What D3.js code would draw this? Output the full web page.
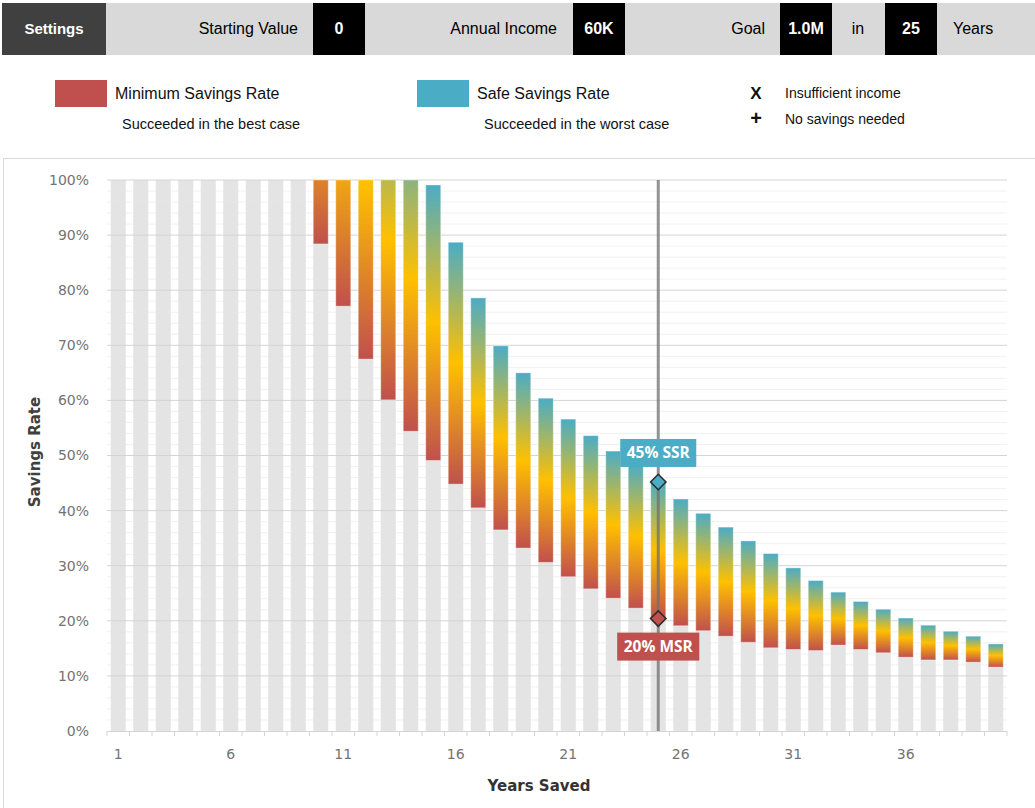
<!DOCTYPE html>
<html>
<head>
<meta charset="utf-8">
<script src="https://cdn.jsdelivr.net/npm/d3@7"></script>
<style>
  body { margin: 0; background: #fff; }
  svg { display: block; }
</style>
</head>
<body>
<script>
// ---- data ----
var years = [1, 2, 3, 4, 5, 6, 7, 8, 9, 10, 11, 12, 13, 14, 15, 16, 17, 18, 19, 20,
             21, 22, 23, 24, 25, 26, 27, 28, 29, 30, 31, 32, 33, 34, 35, 36, 37, 38, 39, 40];

// minimum savings rate (succeeded in the best case), % -- null = no bar
var minRate = [null, null, null, null, null, null, null, null, null,
  88.4, 77.1, 67.5, 60.1, 54.4, 49.1, 44.8, 40.5, 36.5, 33.2, 30.6,
  28.0, 25.8, 24.1, 22.3, 20.4, 19.1, 18.2, 17.2, 16.1, 15.1,
  14.8, 14.6, 15.6, 14.8, 14.2, 13.4, 12.9, 12.9, 12.5, 11.6];

// safe savings rate (succeeded in the worst case), % -- above 100 is cut off
var safeRate = [null, null, null, null, null, null, null, null, null,
  140, 137, 131, 118, 110, 99.1, 88.7, 78.6, 69.9, 65.0, 60.4,
  56.6, 53.6, 50.8, 48.4, 45.2, 42.1, 39.5, 37.0, 34.5, 32.2,
  29.6, 27.3, 25.2, 23.5, 22.1, 20.5, 19.2, 18.1, 17.2, 15.8];

var yTicks = [0, 10, 20, 30, 40, 50, 60, 70, 80, 90, 100];
var xTickLabels = [1, 6, 11, 16, 21, 26, 31, 36];

var goalYears = 25;
var settingLabels = ["Starting Value", "Annual Income", "Goal"];
var settingValues = ["0", "60K", "1.0M"];

var RED = "#c0504d", YELLOW = "#ffc000", TEAL = "#4bacc6";

// ---- page ----
var svg = d3.select("body").append("svg")
    .attr("width", 1035)
    .attr("height", 808);

var defs = svg.append("defs");

// settings strip across the top
var strip = svg.append("g").attr("class", "settings")
    .attr("font-family", "Liberation Sans, Arial, sans-serif").attr("font-size", 16);
strip.append("rect").attr("x", 2).attr("y", 3).attr("width", 1033).attr("height", 52).attr("fill", "#d9d9d9");
strip.append("rect").attr("x", 2).attr("y", 3).attr("width", 104).attr("height", 52).attr("fill", "#404040");
strip.append("text").attr("x", 54).attr("y", 34).attr("text-anchor", "middle")
    .attr("font-size", 15).attr("font-weight", "bold").attr("fill", "#fff").text("Settings");

var labelEnds = [298, 557, 765];
var boxLefts = [313, 573, 780];
settingLabels.forEach(function(lbl, i) {
  strip.append("text").attr("x", labelEnds[i]).attr("y", 34).attr("text-anchor", "end")
      .attr("fill", "#000").text(lbl);
  strip.append("rect").attr("x", boxLefts[i]).attr("y", 3).attr("width", 52).attr("height", 52).attr("fill", "#000");
  strip.append("text").attr("x", boxLefts[i] + 26).attr("y", 34).attr("text-anchor", "middle")
      .attr("font-weight", "bold").attr("fill", "#fff").text(settingValues[i]);
});
strip.append("text").attr("x", 858).attr("y", 34).attr("text-anchor", "middle").text("in");
strip.append("rect").attr("x", 885).attr("y", 3).attr("width", 52).attr("height", 52).attr("fill", "#000");
strip.append("text").attr("x", 911).attr("y", 34).attr("text-anchor", "middle")
    .attr("font-weight", "bold").attr("fill", "#fff").text(goalYears);
strip.append("text").attr("x", 953).attr("y", 34).text("Years");

// legend
var legend = svg.append("g").attr("class", "legend")
    .attr("font-family", "Liberation Sans, Arial, sans-serif").attr("fill", "#111");
[[55, RED, "Minimum Savings Rate", "Succeeded in the best case"],
 [417, TEAL, "Safe Savings Rate", "Succeeded in the worst case"]].forEach(function(d) {
  legend.append("rect").attr("x", d[0]).attr("y", 80).attr("width", 52).attr("height", 27).attr("fill", d[1]);
  legend.append("text").attr("x", d[0] + 60).attr("y", 99).attr("font-size", 16).text(d[2]);
  legend.append("text").attr("x", d[0] + 67).attr("y", 129).attr("font-size", 14.5).text(d[3]);
});
legend.append("text").attr("x", 756).attr("y", 99).attr("text-anchor", "middle").attr("font-size", 17).attr("font-weight", "bold").text("X");
legend.append("text").attr("x", 756).attr("y", 125).attr("text-anchor", "middle").attr("font-size", 20).attr("font-weight", "bold").text("+");
legend.append("text").attr("x", 785).attr("y", 98).attr("font-size", 14).text("Insufficient income");
legend.append("text").attr("x", 785).attr("y", 124).attr("font-size", 14).text("No savings needed");

// chart panel
svg.append("rect").attr("x", 3.5).attr("y", 158.5).attr("width", 1040).attr("height", 700)
    .attr("fill", "none").attr("stroke", "#d9d9d9");

var x = d3.scaleBand().domain(years).range([107, 1007]).paddingInner(1 / 3).paddingOuter(1 / 6);
var y = d3.scaleLinear().domain([0, 100]).range([731, 180]);

var plot = svg.append("g").attr("class", "plot");

// grey base up to the minimum rate (full height where there is no range)
plot.selectAll("rect.track")
    .data(years)
  .enter().append("rect")
    .attr("class", "track")
    .attr("x", function(d) { return x(d); })
    .attr("width", x.bandwidth())
    .attr("y", function(d, i) { return y(minRate[i] === null ? 100 : Math.min(minRate[i], 100)); })
    .attr("height", function(d, i) {
      return y(0) - y(minRate[i] === null ? 100 : Math.min(minRate[i], 100));
    })
    .attr("fill", "#e4e4e4");

// grid, minor every 2%, major every 10%
plot.selectAll("line.minor")
    .data(y.ticks(50).filter(function(t) { return t % 10 !== 0; }))
  .enter().append("line")
    .attr("class", "minor")
    .attr("x1", 107).attr("x2", 1007)
    .attr("y1", function(d) { return y(d); }).attr("y2", function(d) { return y(d); })
    .attr("stroke", "#e6e6e6").attr("stroke-opacity", 0.55);
plot.selectAll("line.major")
    .data(yTicks.filter(function(t) { return t > 0; }))
  .enter().append("line")
    .attr("class", "major")
    .attr("x1", 107).attr("x2", 1007)
    .attr("y1", function(d) { return y(d); }).attr("y2", function(d) { return y(d); })
    .attr("stroke", "#d4d4d4");

// y axis labels
var yAxis = svg.append("g").attr("transform", "translate(107,0)")
    .call(d3.axisLeft(y).tickValues(yTicks).tickFormat(function(d) { return d + "%"; })
      .tickSize(0).tickPadding(18));
yAxis.select(".domain").remove();
yAxis.selectAll("text").attr("font-family", "DejaVu Sans, Verdana, sans-serif")
    .attr("font-size", 14).attr("fill", "#737373");

// x axis: baseline, boundary ticks, labels every 5 years
var xAxis = svg.append("g").attr("transform", "translate(0,731)")
    .call(d3.axisBottom(x).tickValues(xTickLabels).tickSize(0).tickPadding(18));
xAxis.select(".domain").attr("stroke", "#d4d4d4").attr("d", "M107,0.5H1007");
xAxis.selectAll("text").attr("font-family", "DejaVu Sans, Verdana, sans-serif")
    .attr("font-size", 14).attr("fill", "#737373");
var step = x.step();
xAxis.selectAll("line.bound")
    .data(years.concat([years.length + 1]))
  .enter().append("line")
    .attr("class", "bound")
    .attr("x1", function(d, i) { return 107 + i * step; })
    .attr("x2", function(d, i) { return 107 + i * step; })
    .attr("y1", 0).attr("y2", 5)
    .attr("stroke", "#d4d4d4");

// one gradient per bar, spanning min -> safe so the cut-off bars keep their colour
var ranged = years.map(function(yr, i) {
  return { year: yr, min: minRate[i], safe: safeRate[i] };
}).filter(function(d) { return d.min !== null; });

var grads = defs.selectAll("linearGradient")
    .data(ranged)
  .enter().append("linearGradient")
    .attr("id", function(d) { return "grad" + d.year; })
    .attr("gradientUnits", "userSpaceOnUse")
    .attr("x1", 0).attr("x2", 0)
    .attr("y1", function(d) { return y(d.min); })
    .attr("y2", function(d) { return y(d.safe); });
grads.append("stop").attr("offset", 0).attr("stop-color", RED);
grads.append("stop").attr("offset", 0.5).attr("stop-color", YELLOW);
grads.append("stop").attr("offset", 1).attr("stop-color", TEAL);

plot.selectAll("rect.range")
    .data(ranged)
  .enter().append("rect")
    .attr("class", "range")
    .attr("x", function(d) { return x(d.year); })
    .attr("width", x.bandwidth())
    .attr("y", function(d) { return y(Math.min(d.safe, 100)); })
    .attr("height", function(d) { return y(d.min) - y(Math.min(d.safe, 100)); })
    .attr("fill", function(d) { return "url(#grad" + d.year + ")"; })
    .attr("stroke", "#fff").attr("stroke-opacity", 0.35);

// marker for the chosen horizon
var goal = ranged.filter(function(d) { return d.year === goalYears; })[0];
var gx = x(goalYears) + x.bandwidth() / 2;
svg.append("line")
    .attr("x1", gx).attr("x2", gx).attr("y1", y(100)).attr("y2", y(0))
    .attr("stroke", "#6f6f6f").attr("stroke-width", 3).attr("stroke-opacity", 0.75);

var diamond = d3.symbol().type(d3.symbolSquare).size(120);
[[goal.safe, TEAL], [goal.min, RED]].forEach(function(d) {
  svg.append("path").attr("d", diamond())
      .attr("transform", "translate(" + gx + "," + y(d[0]) + ") rotate(45)")
      .attr("fill", d[1]).attr("stroke", "#2b2b2b").attr("stroke-width", 1.5);
});

function tag(text, color, cy) {
  var g = svg.append("g");
  var box = g.append("rect").attr("fill", color);
  var t = g.append("text").attr("x", gx).attr("y", cy + 5.5).attr("text-anchor", "middle")
      .attr("font-family", "Open Sans, sans-serif").attr("font-size", 15.5)
      .attr("font-weight", "bold").attr("fill", "#fff").text(text);
  var w = t.node().getComputedTextLength() + 13;
  box.attr("x", gx - w / 2).attr("y", cy - 14).attr("width", w).attr("height", 28);
}
tag(Math.round(goal.safe) + "% SSR", TEAL, y(goal.safe) - 29);
tag(Math.round(goal.min) + "% MSR", RED, y(goal.min) + 28);

// axis titles
svg.append("text")
    .attr("transform", "translate(40,452) rotate(-90)")
    .attr("text-anchor", "middle")
    .attr("font-family", "DejaVu Sans, Verdana, sans-serif").attr("font-size", 15)
    .attr("font-weight", "bold").attr("fill", "#404040")
    .text("Savings Rate");
svg.append("text")
    .attr("x", 539).attr("y", 791)
    .attr("text-anchor", "middle")
    .attr("font-family", "DejaVu Sans, Verdana, sans-serif").attr("font-size", 15)
    .attr("font-weight", "bold").attr("fill", "#333")
    .text("Years Saved");
</script>
</body>
</html>
